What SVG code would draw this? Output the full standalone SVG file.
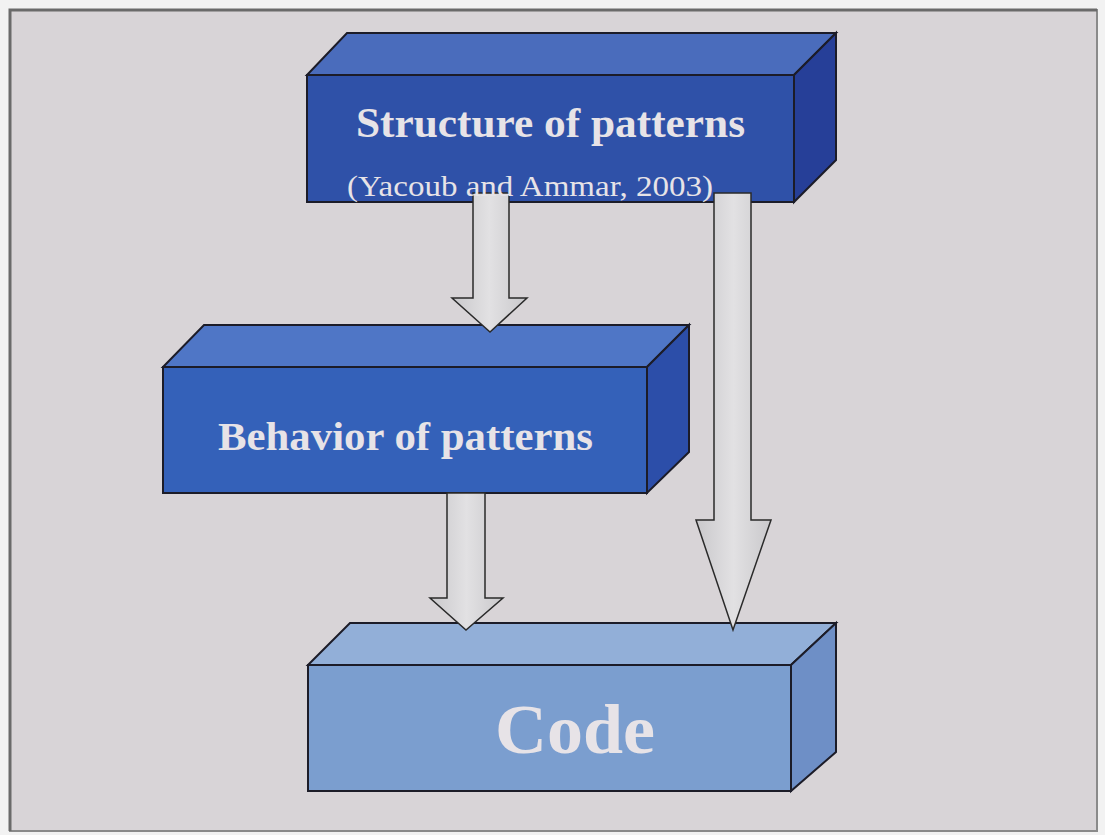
<svg xmlns="http://www.w3.org/2000/svg" width="1105" height="835" viewBox="0 0 1105 835">
  <defs>
    <linearGradient id="arrowFill" x1="0" y1="0" x2="1" y2="0">
      <stop offset="0" stop-color="#c9c8cb"/>
      <stop offset="0.5" stop-color="#e2e1e3"/>
      <stop offset="1" stop-color="#c9c8cb"/>
    </linearGradient>
  </defs>
  <style>
    .edge { stroke: #1c1c28; stroke-width: 2; stroke-linejoin: miter; }
    .arrow { fill: url(#arrowFill); stroke: #2a2a2a; stroke-width: 1.5; stroke-linejoin: miter; }
    .lbl { font-family: "Liberation Serif", "Times New Roman", serif; fill: #e7e3e7; }
    .bold { font-weight: bold; }
  </style>

  <rect x="0" y="0" width="1105" height="835" fill="#f2f2f2"/>
  <rect x="10" y="10" width="1087" height="821" fill="#d8d4d7" stroke="#8a8a8a" stroke-width="2"/>
  <path d="M10,831 L10,10 L1097,10" fill="none" stroke="#6a6a6a" stroke-width="3"/>

  <g id="node-structure">
    <polygon class="edge" points="307,75 347,33 836,33 794,75" fill="#4a6cbc"/>
    <polygon class="edge" points="794,75 836,33 836,160 794,202" fill="#263f98"/>
    <rect class="edge" x="307" y="75" width="487" height="127" fill="#2f51a8"/>
    <text class="lbl bold" x="356" y="137" font-size="42" textLength="389" lengthAdjust="spacingAndGlyphs">Structure of patterns</text>
  </g>

  <g id="node-behavior">
    <polygon class="edge" points="163,367 204,325 689,325 647,367" fill="#4f76c6"/>
    <polygon class="edge" points="647,367 689,325 689,452 647,493" fill="#2c4ea9"/>
    <rect class="edge" x="163" y="367" width="484" height="126" fill="#3461b9"/>
    <text class="lbl bold" x="218" y="450" font-size="41" textLength="375" lengthAdjust="spacingAndGlyphs">Behavior of patterns</text>
  </g>

  <g id="node-code">
    <polygon class="edge" points="308,665 350,623 836,623 791,665" fill="#92afd8"/>
    <polygon class="edge" points="791,665 836,623 836,752 791,791" fill="#6e8fc6"/>
    <rect class="edge" x="308" y="665" width="483" height="126" fill="#7b9ecf"/>
    <text class="lbl bold" x="495" y="753" font-size="70" textLength="160" lengthAdjust="spacingAndGlyphs">Code</text>
  </g>

  <g id="connectors">
    <polygon class="arrow" points="473,193 509,193 509,298 527,298 490,332 452,298 473,298"/>
    <polygon class="arrow" points="714,193 751,193 751,520 771,520 733,630 696,520 714,520"/>
    <polygon class="arrow" points="447,493 485,493 485,598 503,598 466,630 430,598 447,598"/>
  </g>

  <g id="node-structure-citation">
    <text class="lbl" x="347" y="196" font-size="29" textLength="366" lengthAdjust="spacingAndGlyphs">(Yacoub and Ammar, 2003)</text>
  </g>
</svg>
